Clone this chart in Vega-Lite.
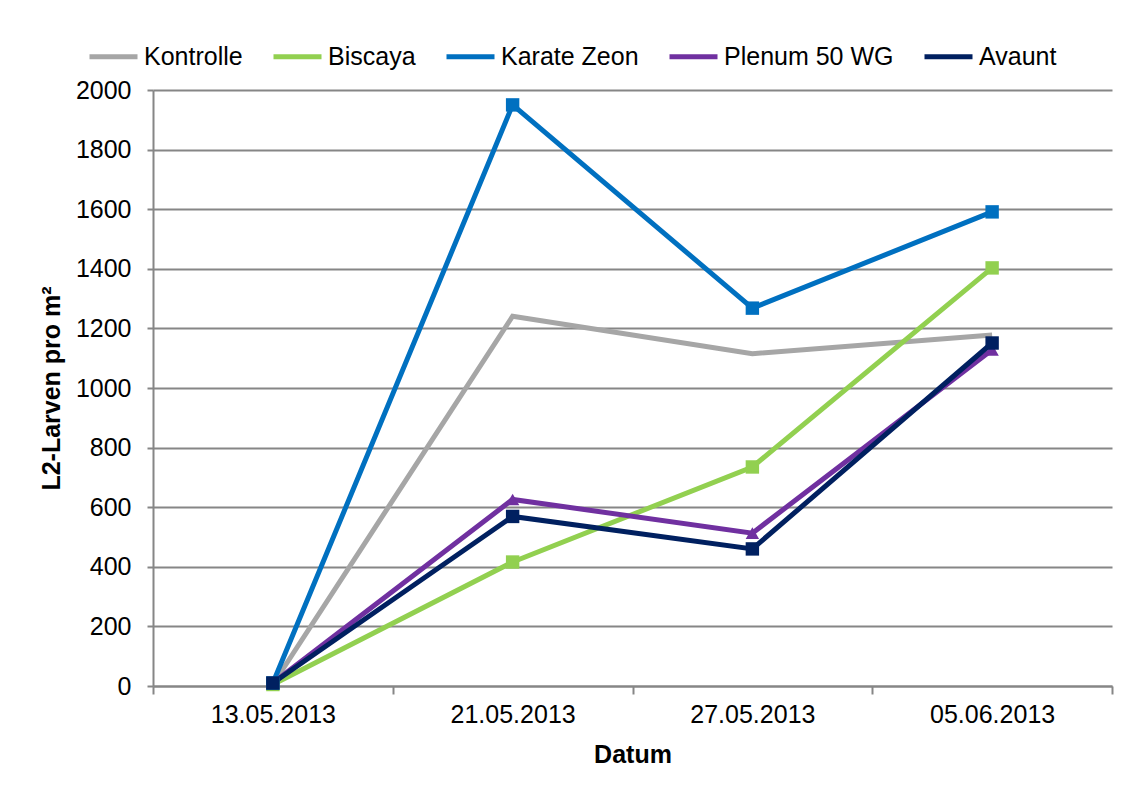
{
  "$schema": "https://vega.github.io/schema/vega-lite/v6.json",
  "width": 959,
  "height": 596,
  "autosize": {"type": "none"},
  "padding": {"left": 153, "top": 90, "right": 14, "bottom": 108},
  "background": "white",
  "config": {
    "font": "Liberation Sans",
    "view": {"stroke": null},
    "axis": {"labelFont": "Liberation Sans", "titleFont": "Liberation Sans", "labelColor": "black", "titleColor": "black"}
  },
  "data": {
    "values": [
      {"Datum": "13.05.2013", "Serie": "Kontrolle", "Wert": 5},
      {"Datum": "21.05.2013", "Serie": "Kontrolle", "Wert": 1241},
      {"Datum": "27.05.2013", "Serie": "Kontrolle", "Wert": 1115},
      {"Datum": "05.06.2013", "Serie": "Kontrolle", "Wert": 1178},
      {"Datum": "13.05.2013", "Serie": "Biscaya", "Wert": 5},
      {"Datum": "21.05.2013", "Serie": "Biscaya", "Wert": 416},
      {"Datum": "27.05.2013", "Serie": "Biscaya", "Wert": 735},
      {"Datum": "05.06.2013", "Serie": "Biscaya", "Wert": 1403},
      {"Datum": "13.05.2013", "Serie": "Karate Zeon", "Wert": 10},
      {"Datum": "21.05.2013", "Serie": "Karate Zeon", "Wert": 1950},
      {"Datum": "27.05.2013", "Serie": "Karate Zeon", "Wert": 1268},
      {"Datum": "05.06.2013", "Serie": "Karate Zeon", "Wert": 1591},
      {"Datum": "13.05.2013", "Serie": "Plenum 50 WG", "Wert": 10},
      {"Datum": "21.05.2013", "Serie": "Plenum 50 WG", "Wert": 626},
      {"Datum": "27.05.2013", "Serie": "Plenum 50 WG", "Wert": 513},
      {"Datum": "05.06.2013", "Serie": "Plenum 50 WG", "Wert": 1128},
      {"Datum": "13.05.2013", "Serie": "Avaunt", "Wert": 10},
      {"Datum": "21.05.2013", "Serie": "Avaunt", "Wert": 569},
      {"Datum": "27.05.2013", "Serie": "Avaunt", "Wert": 460},
      {"Datum": "05.06.2013", "Serie": "Avaunt", "Wert": 1151}
    ]
  },
  "encoding": {
    "x": {
      "field": "Datum", "type": "ordinal",
      "sort": ["13.05.2013", "21.05.2013", "27.05.2013", "05.06.2013"],
      "scale": {"paddingInner": 0, "paddingOuter": 0},
      "axis": {
        "title": "Datum", "labelAngle": 0, "labelFontSize": 25, "titleFontSize": 25, "titleFontWeight": "bold",
        "tickBand": "extent", "tickSize": 8, "tickColor": "#868686", "domainColor": "#868686", "domainWidth": 2, "tickWidth": 2,
        "labelPadding": 8, "titlePadding": 15, "grid": false
      }
    },
    "y": {
      "field": "Wert", "type": "quantitative",
      "scale": {"domain": [0, 2000], "nice": false},
      "axis": {
        "title": "L2-Larven pro m²", "values": [0, 200, 400, 600, 800, 1000, 1200, 1400, 1600, 1800, 2000],
        "format": "d",
        "labelFontSize": 25, "titleFontSize": 25, "titleFontWeight": "bold",
        "tickSize": 6, "labelPadding": 16, "titlePadding": 11,
        "tickColor": "#868686", "domainColor": "#868686", "domainWidth": 2, "tickWidth": 2,
        "grid": true, "gridColor": "#868686", "gridWidth": 2
      }
    },
    "color": {
      "field": "Serie", "type": "nominal",
      "sort": ["Kontrolle", "Biscaya", "Karate Zeon", "Plenum 50 WG", "Avaunt"],
      "scale": {
        "domain": ["Kontrolle", "Biscaya", "Karate Zeon", "Plenum 50 WG", "Avaunt"],
        "range": ["#A6A6A6", "#92D050", "#0070C0", "#7030A0", "#002060"]
      },
      "legend": {
        "title": null, "orient": "none", "direction": "horizontal", "legendX": -66, "legendY": -60,
        "symbolType": "stroke", "symbolStrokeWidth": 5, "symbolSize": 2304,
        "labelFontSize": 25, "labelOffset": 4, "columnPadding": 20, "labelLimit": 400,
        "labelFont": "Liberation Sans", "labelColor": "black"
      }
    }
  },
  "layer": [
    {
      "mark": {"type": "line", "strokeWidth": 5}
    },
    {
      "transform": [{"filter": "datum.Serie !== 'Kontrolle'"}],
      "mark": {"type": "point", "filled": true, "size": 180, "opacity": 1},
      "encoding": {
        "shape": {
          "field": "Serie", "type": "nominal",
          "scale": {
            "domain": ["Biscaya", "Karate Zeon", "Plenum 50 WG", "Avaunt"],
            "range": ["square", "square", "triangle-up", "square"]
          },
          "legend": null
        }
      }
    }
  ]
}
